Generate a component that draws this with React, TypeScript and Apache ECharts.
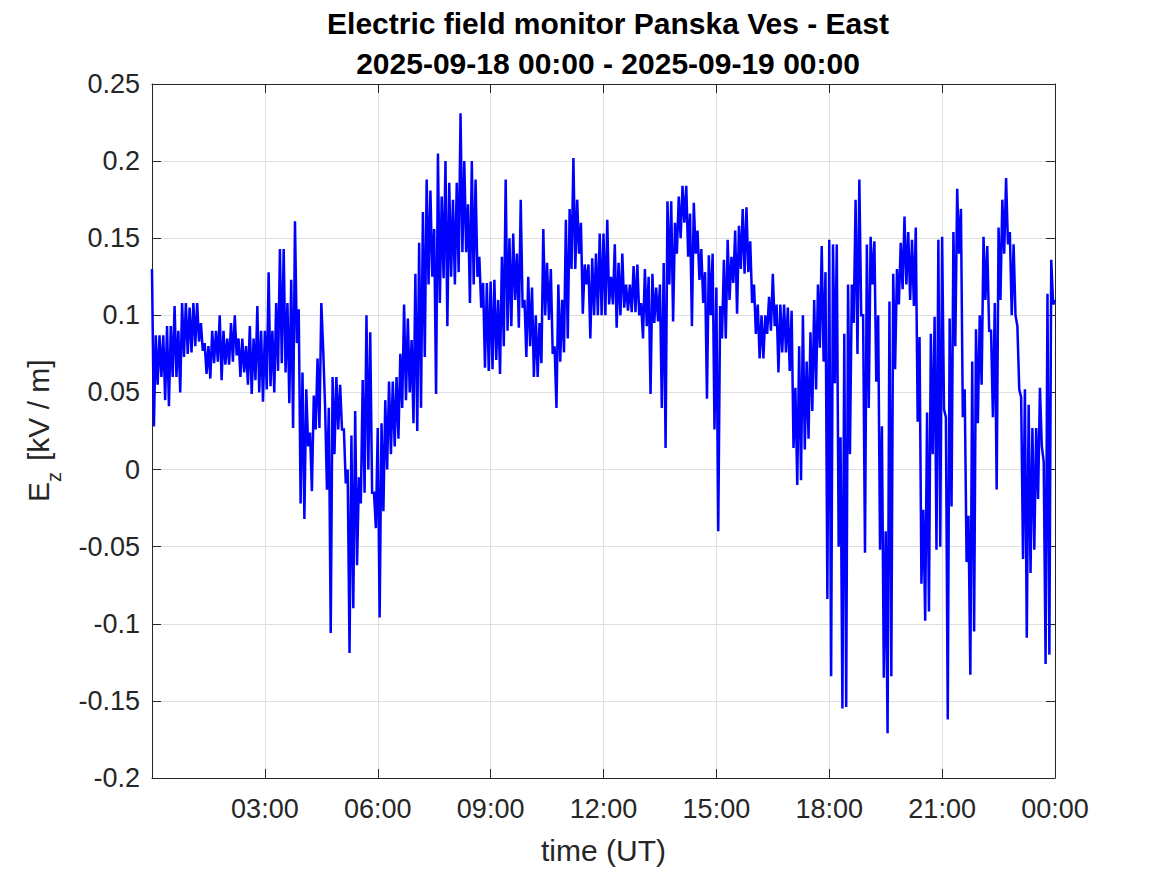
import React, { useEffect, useRef } from "react";
import * as echarts from "echarts";

// Each 6-minute interval of the record is read from the reference as its local
// maximum then its local minimum, so consecutive samples are 3 minutes apart.
const STEP_H = 0.05;

// E_z [kV/m] pairs (max, min) per 6-minute interval
const ez00to03 = [
  0.13, 0.028, 0.087, 0.055, 0.087, 0.06, 0.087, 0.045, 0.093, 0.041,
  0.093, 0.06, 0.106, 0.06, 0.09, 0.05, 0.108, 0.073, 0.108, 0.075,
  0.105, 0.076, 0.108, 0.08, 0.108, 0.083, 0.095, 0.077, 0.082, 0.062,
  0.08, 0.059, 0.09, 0.069, 0.09, 0.07, 0.1, 0.058, 0.09, 0.068,
  0.085, 0.068, 0.095, 0.07, 0.1, 0.074, 0.085, 0.06, 0.085, 0.063,
  0.08, 0.055, 0.093, 0.049, 0.085, 0.058, 0.106, 0.05, 0.09, 0.044,
];
const ez03to06 = [
  0.09, 0.052, 0.128, 0.054, 0.09, 0.05, 0.108, 0.064, 0.143, 0.069,
  0.143, 0.063, 0.108, 0.043, 0.123, 0.027, 0.161, 0.082, 0.104, -0.022,
  0.063, -0.032, 0.052, 0.015, 0.024, -0.014, 0.048, 0.026, 0.072, 0.027,
  0.108, 0.078, 0.041, -0.013, 0.04, -0.106, 0.06, 0.01, 0.06, 0.026,
  0.055, 0.026, 0.026, -0.009, 0.0, -0.119, 0.022, -0.09, 0.038, -0.062,
  -0.005, -0.022, 0.058, -0.015, 0.1, 0.0, 0.089, -0.015, -0.015, -0.038,
];
const ez06to09 = [
  0.027, -0.096, 0.03, -0.027, 0.045, 0.0, 0.057, 0.01, 0.057, 0.015,
  0.06, 0.02, 0.075, 0.04, 0.107, 0.045, 0.098, 0.05, 0.084, 0.03,
  0.127, 0.025, 0.147, 0.04, 0.167, 0.073, 0.188, 0.12, 0.181, 0.125,
  0.156, 0.049, 0.205, 0.108, 0.177, 0.124, 0.2, 0.093, 0.186, 0.125,
  0.175, 0.12, 0.186, 0.128, 0.231, 0.141, 0.2, 0.141, 0.172, 0.108,
  0.2, 0.12, 0.188, 0.125, 0.138, 0.105, 0.121, 0.066, 0.121, 0.064,
];
const ez09to12 = [
  0.122, 0.065, 0.123, 0.071, 0.11, 0.062, 0.138, 0.08, 0.188, 0.09,
  0.15, 0.093, 0.153, 0.11, 0.14, 0.092, 0.175, 0.105, 0.11, 0.073,
  0.125, 0.08, 0.118, 0.06, 0.1, 0.06, 0.095, 0.069, 0.156, 0.1,
  0.134, 0.097, 0.13, 0.075, 0.08, 0.04, 0.12, 0.07, 0.11, 0.076,
  0.162, 0.085, 0.169, 0.13, 0.202, 0.13, 0.175, 0.14, 0.16, 0.101,
  0.133, 0.12, 0.133, 0.085, 0.137, 0.1, 0.14, 0.1, 0.153, 0.1,
];
const ez12to15 = [
  0.153, 0.1, 0.162, 0.107, 0.125, 0.107, 0.146, 0.092, 0.134, 0.1,
  0.14, 0.105, 0.12, 0.103, 0.12, 0.102, 0.132, 0.102, 0.133, 0.1,
  0.108, 0.085, 0.13, 0.093, 0.125, 0.049, 0.127, 0.095, 0.118, 0.096,
  0.12, 0.04, 0.134, 0.014, 0.174, 0.12, 0.174, 0.096, 0.16, 0.14,
  0.177, 0.15, 0.184, 0.16, 0.184, 0.138, 0.166, 0.093, 0.173, 0.14,
  0.155, 0.123, 0.143, 0.108, 0.128, 0.046, 0.139, 0.1, 0.14, 0.026,
];
const ez15to18 = [
  0.118, -0.04, 0.106, 0.085, 0.136, 0.085, 0.149, 0.11, 0.138, 0.121,
  0.155, 0.101, 0.158, 0.13, 0.169, 0.127, 0.17, 0.128, 0.148, 0.108,
  0.12, 0.088, 0.107, 0.072, 0.1, 0.072, 0.1, 0.088, 0.112, 0.09,
  0.127, 0.093, 0.107, 0.063, 0.107, 0.076, 0.107, 0.076, 0.105, 0.064,
  0.103, 0.014, 0.053, -0.01, 0.08, -0.007, 0.1, 0.013, 0.07, 0.02,
  0.089, 0.038, 0.11, 0.052, 0.12, 0.079, 0.145, 0.07, 0.128, -0.084,
];
const ez18to21 = [
  0.149, -0.134, 0.146, 0.056, 0.146, -0.05, 0.021, -0.155, 0.088, -0.154,
  0.12, 0.01, 0.12, 0.095, 0.175, 0.075, 0.188, 0.1, 0.1, -0.054,
  0.146, 0.04, 0.151, 0.12, 0.148, 0.057, 0.1, -0.052, 0.028, -0.135,
  -0.04, -0.171, 0.109, -0.134, 0.127, 0.065, 0.13, 0.107, 0.147, 0.117,
  0.164, 0.12, 0.154, 0.11, 0.149, 0.106, 0.157, 0.031, 0.086, -0.074,
  -0.026, -0.098, 0.037, -0.092, 0.088, 0.01, 0.099, -0.052, 0.149, -0.05,
];
const ez21to24 = [
  0.151, 0.039, 0.034, -0.162, 0.098, -0.024, 0.154, 0.08, 0.182, 0.14,
  0.169, 0.034, 0.052, -0.06, -0.03, -0.133, 0.07, -0.105, 0.091, 0.03,
  0.1, 0.055, 0.151, 0.11, 0.145, 0.09, 0.09, 0.034, 0.108, -0.013,
  0.157, 0.11, 0.175, 0.14, 0.189, 0.146, 0.154, 0.1, 0.146, 0.1,
  0.093, 0.052, 0.047, -0.058, 0.052, -0.109, 0.042, -0.067, 0.027, -0.052,
  0.027, -0.019, 0.053, 0.015, 0.005, -0.126, 0.114, -0.12, 0.136, 0.107,
  0.11,
];

const TITLE_LINES = ["Electric field monitor Panska Ves - East", "2025-09-18 00:00 - 2025-09-19 00:00"];
const X_NAME = "time (UT)";
const Y_TICK_MIN = -0.2;
const Y_TICK_MAX = 0.25;
const Y_TICK_STEP = 0.05;
const X_TICK_STEP = 3;

const FONT = "'Liberation Sans', Arial, Helvetica, sans-serif";
const AXIS_COLOR = "#262626";
const GRID_COLOR = "#dfdfdf";

export default function App() {
  const ref = useRef<HTMLDivElement>(null);

  useEffect(() => {
    if (!ref.current) return;
    const chart = echarts.init(ref.current, null, { renderer: "svg" });
    const values = [
      ...ez00to03, ...ez03to06, ...ez06to09, ...ez09to12,
      ...ez12to15, ...ez15to18, ...ez18to21, ...ez21to24,
    ];
    const data = values.map((v, i) => [i * STEP_H, v]);

    const xFmt = (v: number) => (v === 0 ? "" : String(v % 24).padStart(2, "0") + ":00");
    const yFmt = (v: number) => String(parseFloat(v.toFixed(2)));

    const baseX = {
      type: "value" as const,
      min: 0,
      max: 24,
      interval: X_TICK_STEP,
      axisLine: { show: true, onZero: false, lineStyle: { color: AXIS_COLOR, width: 1 } },
      axisTick: { show: true, inside: true, length: 9, lineStyle: { color: AXIS_COLOR } },
    };
    const baseY = {
      type: "value" as const,
      min: Y_TICK_MIN,
      max: Y_TICK_MAX,
      interval: Y_TICK_STEP,
      axisLine: { show: true, onZero: false, lineStyle: { color: AXIS_COLOR, width: 1 } },
      axisTick: { show: true, inside: true, length: 9, lineStyle: { color: AXIS_COLOR } },
    };

    chart.setOption({
      animation: false,
      backgroundColor: "#ffffff",
      title: {
        text: TITLE_LINES.join("\n"),
        left: 603,
        top: -2,
        textAlign: "center",
        textStyle: {
          fontFamily: FONT,
          fontSize: 30,
          fontWeight: "bold",
          color: "#000000",
          lineHeight: 40,
        },
      },
      grid: { left: 152, right: 112, top: 84, bottom: 97, containLabel: false },
      xAxis: [
        {
          ...baseX,
          position: "bottom",
          axisLabel: {
            formatter: xFmt,
            fontFamily: FONT,
            fontSize: 27,
            color: AXIS_COLOR,
            margin: 17,
          },
          splitLine: { show: true, lineStyle: { color: GRID_COLOR, width: 1 } },
          name: X_NAME,
          nameLocation: "middle",
          nameGap: 57,
          nameTextStyle: { fontFamily: FONT, fontSize: 30, color: AXIS_COLOR },
        },
        {
          ...baseX,
          position: "top",
          axisLabel: { show: false },
          splitLine: { show: false },
        },
      ],
      yAxis: [
        {
          ...baseY,
          position: "left",
          axisLabel: {
            formatter: yFmt,
            fontFamily: FONT,
            fontSize: 27,
            color: AXIS_COLOR,
            margin: 12,
          },
          splitLine: { show: true, lineStyle: { color: GRID_COLOR, width: 1 } },
        },
        {
          ...baseY,
          position: "right",
          axisLabel: { show: false },
          splitLine: { show: false },
        },
      ],
      graphic: [
        {
          type: "group",
          x: 38,
          y: 431,
          rotation: Math.PI / 2,
          children: [
            {
              type: "text",
              style: {
                text: "E",
                x: -71,
                y: 0,
                fontFamily: FONT,
                fontSize: 30,
                fill: AXIS_COLOR,
                align: "left",
                verticalAlign: "middle",
                textAlign: "left",
                textVerticalAlign: "middle",
              },
            },
            {
              type: "text",
              style: {
                text: "z",
                x: -51,
                y: 16,
                fontFamily: FONT,
                fontSize: 20,
                fill: AXIS_COLOR,
                align: "left",
                verticalAlign: "middle",
                textAlign: "left",
                textVerticalAlign: "middle",
              },
            },
            {
              type: "text",
              style: {
                text: "[kV / m]",
                x: -30,
                y: 0,
                fontFamily: FONT,
                fontSize: 30,
                fill: AXIS_COLOR,
                align: "left",
                verticalAlign: "middle",
                textAlign: "left",
                textVerticalAlign: "middle",
              },
            },
          ],
        },
      ],
      series: [
        {
          type: "line",
          xAxisIndex: 0,
          yAxisIndex: 0,
          data,
          showSymbol: false,
          symbol: "none",
          clip: true,
          lineStyle: { color: "#0000ff", width: 2.5, join: "miter" },
        },
      ],
    });
    return () => chart.dispose();
  }, []);

  return (
    <div
      ref={ref}
      style={{ position: "fixed", left: 0, top: 0, width: 1167, height: 875, background: "#fff" }}
    />
  );
}
